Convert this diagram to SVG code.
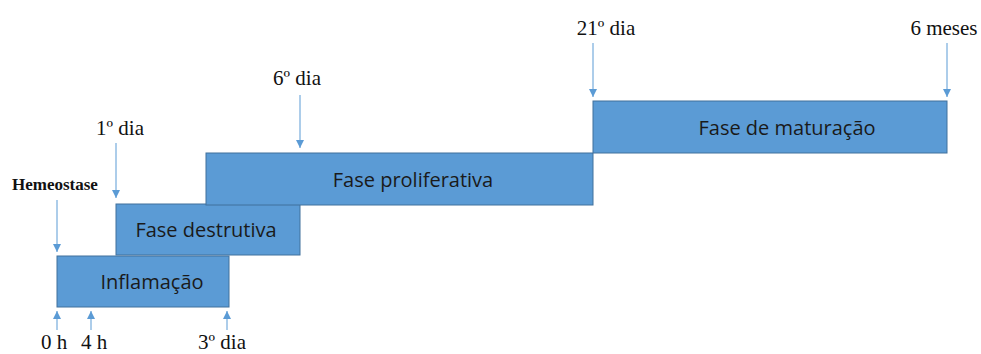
<svg xmlns="http://www.w3.org/2000/svg" width="981" height="354" viewBox="0 0 981 354">
<style>
.box{fill:#5B9BD5;stroke:#41719C;stroke-width:1}
.lbl{font-family:"Open Sans","Liberation Sans",sans-serif;font-size:20px;fill:#1a1a1a;text-anchor:middle}
.t{font-family:"Liberation Serif",serif;font-size:21px;fill:#111;text-anchor:middle}
.arr{stroke:#5B9BD5;stroke-width:1;fill:none;marker-end:url(#ah)}
</style>
<defs>
<marker id="ah" viewBox="0 0 8 8" refX="8" refY="4" markerWidth="8" markerHeight="8" markerUnits="userSpaceOnUse" orient="auto">
<path d="M0,0 L8,4 L0,8 Z" fill="#5B9BD5"/>
</marker>
</defs>
<rect width="981" height="354" fill="#fff"/>
<g id="inflamacao"><rect class="box" x="57" y="256" width="172" height="51"/><text class="lbl" x="152" y="289">Inflamação</text></g>
<g id="destrutiva"><rect class="box" x="116" y="204" width="184" height="51"/><text class="lbl" x="206" y="237">Fase destrutiva</text></g>
<g id="proliferativa"><rect class="box" x="206" y="153" width="387" height="52"/><text class="lbl" x="413" y="187">Fase proliferativa</text></g>
<g id="maturacao"><rect class="box" x="593" y="101" width="354" height="52"/><text class="lbl" x="787" y="135">Fase de maturação</text></g>
<g id="connectors">
<line class="arr" x1="57" y1="200" x2="57" y2="252"/>
<line class="arr" x1="116" y1="143" x2="116" y2="198"/>
<line class="arr" x1="300" y1="95" x2="300" y2="148"/>
<line class="arr" x1="593" y1="43" x2="593" y2="97"/>
<line class="arr" x1="947" y1="43" x2="947" y2="97"/>
<line class="arr" x1="57" y1="330" x2="57" y2="311"/>
<line class="arr" x1="91" y1="330" x2="91" y2="311"/>
<line class="arr" x1="227" y1="330" x2="227" y2="311"/>
</g>
<g id="labels">
<text x="12" y="190" font-family="Liberation Serif,serif" font-size="17" font-weight="bold" fill="#111">Hemeostase</text>
<text class="t" x="120" y="135">1º dia</text>
<text class="t" x="297" y="85">6º dia</text>
<text class="t" x="606" y="35">21º dia</text>
<text class="t" x="944" y="35">6 meses</text>
<text class="t" x="54" y="349">0 h</text>
<text class="t" x="94" y="349">4 h</text>
<text class="t" x="222" y="349">3º dia</text>
</g>
</svg>
